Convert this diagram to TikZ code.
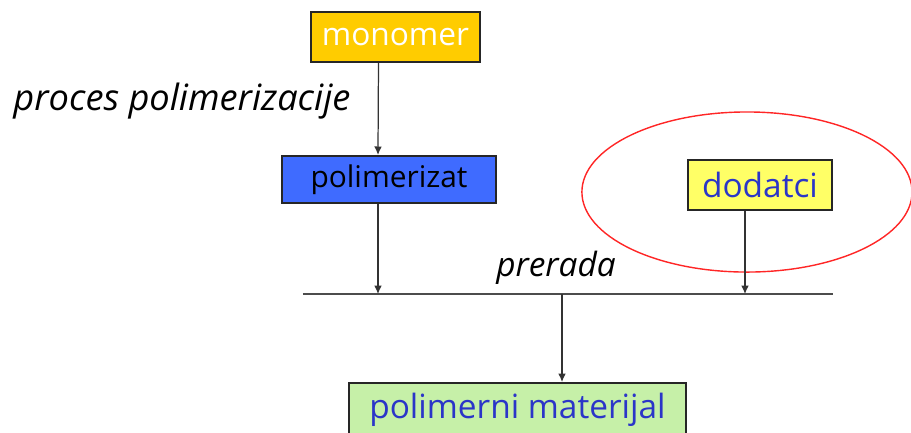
\documentclass[tikz,border=0pt]{standalone}
\usepackage{fontspec}
\setmainfont{Open Sans}
\usetikzlibrary{shapes.geometric,arrows.meta}

\definecolor{zlatna}{HTML}{FFCC00}
\definecolor{plava}{HTML}{3F6BFF}
\definecolor{zuta}{HTML}{FFFF66}
\definecolor{zelena}{HTML}{C6F0A8}
\definecolor{tekst}{HTML}{2B35C8}

\begin{document}
\begin{tikzpicture}[x=0.01cm,y=-0.01cm]

\tikzset{
    kutija/.style args={#1and#2}{
        draw=black!85,
        line width=0.6pt,
        minimum width=#1,
        minimum height=#2,
        inner sep=0pt,
        font=\fontsize{9.5}{11}\selectfont,
    },
    strelica/.style={
        draw=black!80,
        line width=0.35pt,
        -{Latex[length=2.4pt,width=2.2pt]}
    },
    natpis/.style={
        font=\fontsize{#1}{11}\selectfont\itshape,
        inner sep=0pt
    }
}

\useasboundingbox (0,0) rectangle (911,432);
\clip (0,0) rectangle (911,432);

\node(monomer) [kutija=1.69cm and 0.50cm,fill=zlatna,text=white,font=\fontsize{9}{11}\selectfont] at (395.5,37) {monomer};
\node(polimerizat) [kutija=2.14cm and 0.47cm,fill=plava,font=\fontsize{8.5}{10}\selectfont] at (389,179.5) {polimerizat};
\node(dodatci) [kutija=1.44cm and 0.50cm,fill=zuta,text=tekst] at (760,185) {dodatci};
\node(materijal) [kutija=3.37cm and 0.54cm,fill=zelena,text=tekst,anchor=north] at (517.5,382) {polimerni materijal};

\node(grupa) [draw=red!85,shape=ellipse,minimum width=3.3cm,minimum height=1.6cm,line width=0.4pt] at (747,192) {};

\node(proces) [natpis=10.3] at (182,101) {proces polimerizacije};
\node(prerada) [natpis=9.5] at (556,268) {prerada};

\coordinate (lijevo) at (303,294);
\coordinate (desno) at (833,294);
\draw[black!70,line width=0.45pt] (lijevo) -- (desno);

\draw[strelica] ([xshift=-0.17cm]monomer.south) -- ([xshift=-0.11cm]polimerizat.north);
\draw[strelica] ([xshift=-0.11cm]polimerizat.south) -- ([xshift=-0.11cm]polimerizat.south |- lijevo);
\draw[strelica] ([xshift=-0.15cm]dodatci.south) -- ([xshift=-0.15cm]dodatci.south |- desno);
\draw[strelica] ([xshift=0.445cm]materijal.north |- lijevo) -- ([xshift=0.445cm]materijal.north);

\end{tikzpicture}
\end{document}
